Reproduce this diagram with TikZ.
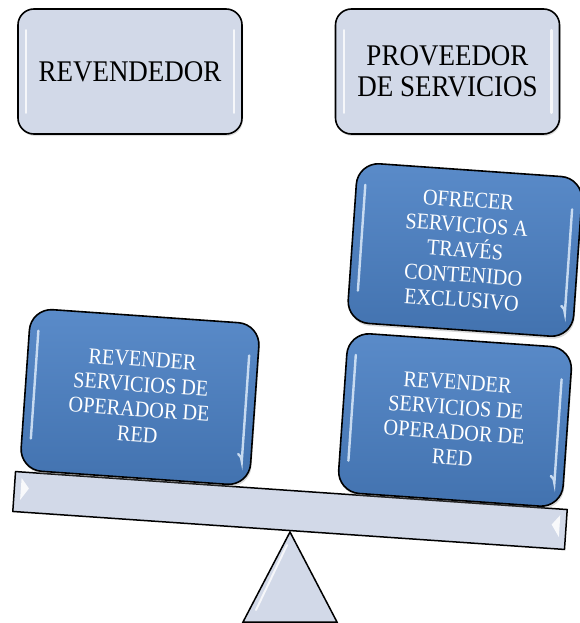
\documentclass[tikz,border=0pt]{standalone}
\usepackage{fontspec}
\usepackage{graphicx}
\setmainfont{Liberation Serif}
\usetikzlibrary{shadows,calc}
\definecolor{boxlight}{HTML}{D2D9E8}
\definecolor{blueA}{HTML}{5A8BC9}
\definecolor{blueB}{HTML}{4272AF}
\definecolor{hlblue}{HTML}{DDEBFA}
\newcommand{\nar}[1]{\scalebox{0.9}[1]{#1}}
\tikzset{
  topbox/.style={draw=black, line width=1.6pt, rounded corners=16pt, fill=boxlight,
    minimum width=224pt, minimum height=125pt, align=center, inner sep=0pt,
    font=\fontsize{30}{30.5}\selectfont,
    drop shadow={shadow xshift=1pt, shadow yshift=-2pt, opacity=.25}},
  bluebox/.style={draw=black, line width=1.6pt, rounded corners=22pt,
    top color=blueA, bottom color=blueB, text=white, align=center, inner sep=0pt,
    font=\fontsize{22.5}{25}\selectfont, rotate=-4,
    drop shadow={shadow xshift=1pt, shadow yshift=-2.5pt, opacity=.3}},
  hl/.style={line width=2.4pt, line cap=round, draw=hlblue, opacity=.85},
  hlgrey/.style={line width=2.4pt, line cap=round, draw=white, opacity=.8},
  beamstyle/.style={draw=black, line width=1.5pt, fill=boxlight, inner sep=0pt},
}
\begin{document}
\begin{tikzpicture}[x=1pt, y=-1pt]
\useasboundingbox (0,0) rectangle (579,623);
% top boxes
\node[topbox] (rev) at (130,71.5) {\nar{REVENDEDOR}};
\node[topbox] (prov) at (447.5,71.5) {\nar{PROVEEDOR}\\\nar{DE SERVICIOS}};
\foreach \n in {rev,prov}{
  \draw[hlgrey] ($(\n.north west)+(9,22)$) -- ($(\n.south west)+(9,-22)$);
  \draw[hlgrey] ($(\n.north east)+(-9,22)$) -- ($(\n.south east)+(-9,-22)$);
}
% fulcrum
\draw[beamstyle, line join=miter] (290,532) -- (337,622) -- (243,622) -- cycle;
\draw[white, line width=2pt, opacity=.8, line cap=round] (287,545) -- (256,610);
% beam
\node[beamstyle, minimum width=553pt, minimum height=40pt, rotate=-3.94] (beam) at (290,510.5) {};
\begin{scope}[shift={(beam.center)}, rotate=-3.94]
  \fill[white, opacity=.85] (-270,-14) -- (-262,-4) -- (-270,8) -- cycle;
  \fill[white, opacity=.85] (270,-14) -- (262,-4) -- (270,8) -- cycle;
\end{scope}
% blue boxes
\node[bluebox, minimum width=230pt, minimum height=162pt] (left) at (140,397)
  {\nar{REVENDER}\\\nar{SERVICIOS DE}\\\nar{OPERADOR DE}\\\nar{RED}};
\node[bluebox, minimum width=225pt, minimum height=160pt] (rlow) at (455,420)
  {\nar{REVENDER}\\\nar{SERVICIOS DE}\\\nar{OPERADOR DE}\\\nar{RED}};
\node[bluebox, minimum width=226pt, minimum height=160pt] (rup) at (465,250)
  {\nar{OFRECER}\\\nar{SERVICIOS A}\\\nar{TRAVÉS}\\\nar{CONTENIDO}\\\nar{EXCLUSIVO}};
\foreach \n/\w/\h in {left/230/162, rlow/225/160, rup/226/160}{
  \begin{scope}[shift={(\n.center)}, rotate=-4]
    \draw[hl] ({-\w/2+9},{-\h/2+22}) -- ({-\w/2+9},{\h/2-32});
    \draw[hl] ({\w/2-9},{-\h/2+32}) -- ({\w/2-9},{\h/2-24}) arc[start angle=0, end angle=-60, radius=8];
  \end{scope}
}
\end{tikzpicture}
\end{document}
